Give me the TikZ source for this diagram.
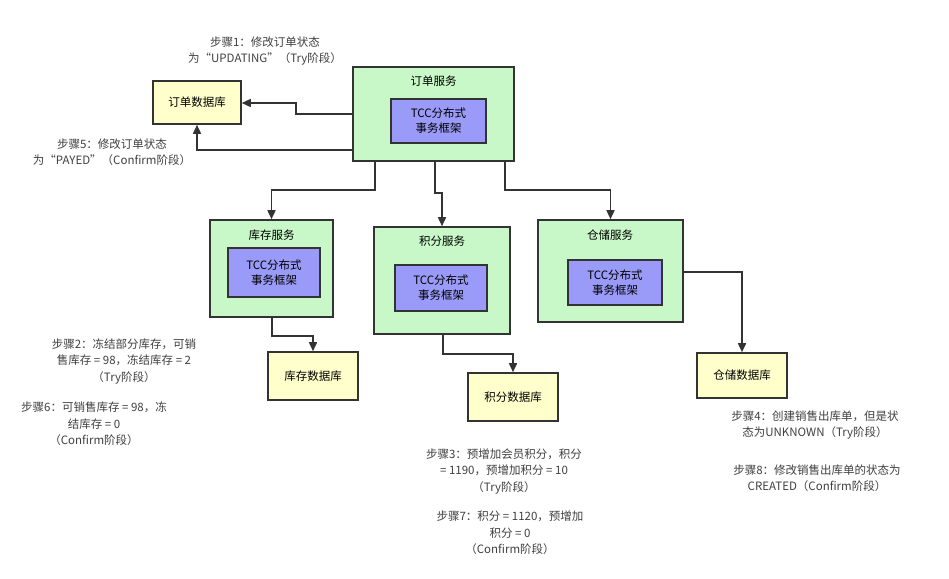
\documentclass[tikz,border=0pt]{standalone}
\usepackage{fontspec}
\setmainfont{Noto Sans CJK SC}
\usetikzlibrary{arrows.meta}
\definecolor{svc}{HTML}{C8F8C8}
\definecolor{tcc}{HTML}{9A9AF8}
\definecolor{db}{HTML}{FFFFCC}
\definecolor{ln}{HTML}{333333}
\begin{document}
\begin{tikzpicture}[x=1pt,y=-1pt,font=\fontsize{11.5}{13}\selectfont,
 box/.style={draw=ln,line width=1.6pt,inner sep=0},
 arr/.style={draw=ln,line width=1.6pt,-{Triangle[length=9pt,width=8pt]}},
 note/.style={align=center,text=black!75,inner sep=0,font=\fontsize{11.5}{16.5}\selectfont}]
\useasboundingbox (0,0) rectangle (949,578);
\fill[white] (0,0) rectangle (949,578);
% order
\node[box,fill=svc,minimum width=161,minimum height=94] (os) at (433.5,114) {};
\node at (433.5,81) {订单服务};
\node[box,fill=tcc,minimum width=95,minimum height=44,align=center,font=\fontsize{11.5}{15}\selectfont] (ot) at (438.5,121) {TCC分布式\\事务框架};
\node[box,fill=db,minimum width=88,minimum height=43] (odb) at (197,102.5) {订单数据库};
\coordinate (a1) at (os.west |- 0,114);
\coordinate (a2) at (os.west |- 0,150);
\draw[arr] (a1) -- (296,114) -- (296,103) -- (odb.east |- 0,103);
\draw[arr] (a2) -- (197,150) -- (odb.south);
\node[note] (n1) at (265,51) {步骤1：修改订单状态\\为“UPDATING”（Try阶段）};
\node[note] (n5) at (112,152) {步骤5：修改订单状态\\为“PAYED”（Confirm阶段）};
% inventory
\node[box,fill=svc,minimum width=123,minimum height=97] (is) at (271.5,268.5) {};
\node at (271.5,235) {库存服务};
\node[box,fill=tcc,minimum width=92,minimum height=49,align=center,font=\fontsize{11.5}{15}\selectfont] (it) at (274,272.5) {TCC分布式\\事务框架};
\node[box,fill=db,minimum width=90,minimum height=48] (idb) at (313,376) {库存数据库};
% points
\node[box,fill=svc,minimum width=136,minimum height=107] (ps) at (442,280.5) {};
\node at (442,241) {积分服务};
\node[box,fill=tcc,minimum width=92,minimum height=46,align=center,font=\fontsize{11.5}{15}\selectfont] (pt) at (441,288) {TCC分布式\\事务框架};
\node[box,fill=db,minimum width=90,minimum height=48] (pdb) at (513,397) {积分数据库};
% warehouse
\node[box,fill=svc,minimum width=145,minimum height=102] (ws) at (610.5,271) {};
\node at (610,235) {仓储服务};
\node[box,fill=tcc,minimum width=94,minimum height=45,align=center,font=\fontsize{11.5}{15}\selectfont] (wt) at (615,282.5) {TCC分布式\\事务框架};
\node[box,fill=db,minimum width=90,minimum height=45] (wdb) at (742,375.5) {仓储数据库};
% branches
\draw[arr] (os.south -| 375,0) -- (375,190) -- (271.5,190) -- (is.north);
\draw[arr] (os.south -| 435,0) -- (435,193) -- (442,193) -- (ps.north);
\draw[arr] (os.south -| 505,0) -- (505,190) -- (610.5,190) -- (ws.north);
\draw[arr] (is.south -| 272,0) -- (272,336) -- (313,336) -- (idb.north);
\draw[arr] (ps.south -| 443,0) -- (443,354) -- (513,354) -- (pdb.north);
\draw[arr] (ws.east |- 0,272) -- (742,272) -- (wdb.north);
% notes
\node[note] (n2) at (124,361) {步骤2：冻结部分库存，可销\\售库存 = 98，冻结库存 = 2\\（Try阶段）};
\node[note] (n6) at (94,424) {步骤6：可销售库存 = 98，冻\\结库存 = 0\\（Confirm阶段）};
\node[note] (n3) at (504,471) {步骤3：预增加会员积分，积分\\= 1190，预增加积分 = 10\\（Try阶段）};
\node[note] (n7) at (510,533) {步骤7：积分 = 1120，预增加\\积分 = 0\\（Confirm阶段）};
\node[note] (n4) at (815,425) {步骤4：创建销售出库单，但是状\\态为UNKNOWN（Try阶段）};
\node[note] (n8) at (817,478) {步骤8：修改销售出库单的状态为\\CREATED（Confirm阶段）};
\end{tikzpicture}
\end{document}
